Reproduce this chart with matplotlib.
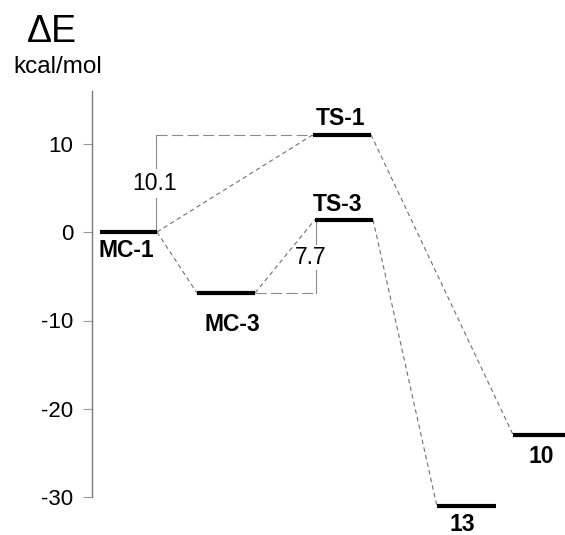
import matplotlib
matplotlib.use("Agg")
import matplotlib.pyplot as plt

plt.rcParams['font.family'] = ['Liberation Sans', 'DejaVu Sans']

# ---- data ----
states = ["MC-1", "MC-3", "TS-1", "TS-3", "13", "10"]
energies = [0.0, -6.9, 11.0, 1.4, -31.0, -22.9]
barrier_labels = ["10.1", "7.7"]
yticks = [10, 0, -10, -20, -30]
ytick_labels = ["10", "0", "-10", "-20", "-30"]

# ---- layout (x extents of levels, in pixel-like units) ----
xspan = {"MC-1": (100, 157), "MC-3": (197, 255), "TS-1": (313, 371),
         "TS-3": (315, 373), "13": (437, 496), "10": (513, 565)}
# label offsets: (dx px from level centre, baseline dy px below level)
lab_off = {"MC-1": (-2, 25), "MC-3": (6, 38), "TS-1": (-2, -10),
           "TS-3": (-6, -9), "13": (-4, 25), "10": (2, 28)}
E = dict(zip(states, energies))

W, H = 565, 535
fig = plt.figure(figsize=(W / 100, H / 100), dpi=100)
ax = fig.add_axes([92 / W, 0, (W - 92) / W, 1])
scale = 8.85
zero_px = 232.0
ax.set_xlim(92, 565)
ax.set_ylim(-(H - zero_px) / scale, zero_px / scale)

for s in ["top", "right", "bottom"]:
    ax.spines[s].set_visible(False)
ax.spines["left"].set_color("#7a7a7a")
ax.spines["left"].set_linewidth(1.0)
ax.spines["left"].set_bounds(-30, (zero_px - 91) / scale)
ax.set_xticks([])
ax.set_yticks(yticks)
ax.set_yticklabels(ytick_labels)
ax.tick_params(axis="y", direction="out", length=6.7, width=0.8,
               color="#9a9a9a", pad=6.8, labelsize=16)

# levels
for s in states:
    x0, x1 = xspan[s]
    ax.plot([x0, x1], [E[s], E[s]], color="black", lw=3, solid_capstyle="butt", zorder=3)
    dx, dy = lab_off[s]
    ax.annotate(s, xy=((x0 + x1) / 2, E[s]), xytext=(dx * 0.72, -dy * 0.72),
                textcoords="offset points", ha="center", va="baseline",
                fontsize=16.5, fontweight="bold", annotation_clip=False)

# connection lines
conn = [("MC-1", "TS-1"), ("MC-1", "MC-3"), ("MC-3", "TS-3"),
        ("TS-1", "10"), ("TS-3", "13")]
for a, b in conn:
    ax.plot([xspan[a][1], xspan[b][0]], [E[a], E[b]], color="#707070",
            lw=0.8, dashes=(4, 3), zorder=2)

# barrier brackets
# 10.1 : MC-1 -> TS-1
xb = xspan["MC-1"][1] - 1
ax.plot([xb, xspan["TS-1"][0]], [E["TS-1"], E["TS-1"]], color="#8a8a8a",
        lw=0.8, dashes=(10, 4), zorder=2)
ax.plot([xb, xb], [E["MC-1"], E["TS-1"]], color="#8a8a8a", lw=0.8, zorder=2)
ax.text(xb - 1, (zero_px - 190) / scale, barrier_labels[0], ha="center",
        va="baseline", fontsize=16.5, zorder=4,
        bbox=dict(facecolor="white", edgecolor="none", pad=2))
# 7.7 : MC-3 -> TS-3
xb2 = xspan["TS-3"][0] + 0.7
ax.plot([xspan["MC-3"][1], xb2], [E["MC-3"], E["MC-3"]], color="#8a8a8a",
        lw=0.8, dashes=(10, 4), zorder=2)
ax.plot([xb2, xb2], [E["MC-3"], E["TS-3"]], color="#8a8a8a", lw=0.8, zorder=1)
ax.text(xb2 - 5, (zero_px - 264) / scale, barrier_labels[1], ha="center",
        va="baseline", fontsize=16.5, zorder=1.5,
        bbox=dict(facecolor="white", edgecolor="none", pad=1))

# axis title
fig.text(52 / W, 1 - 42 / H, "ΔE", ha="center", va="baseline", fontsize=27)
fig.text(57.5 / W, 1 - 73 / H, "kcal/mol", ha="center", va="baseline", fontsize=17.5)

fig.savefig("out.png", dpi=100)
